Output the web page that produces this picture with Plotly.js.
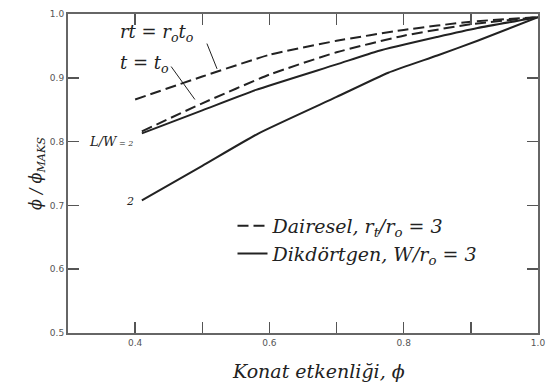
<!DOCTYPE html>
<html>
<head>
<meta charset="utf-8">
<script src="https://cdn.plot.ly/plotly-3.0.1.min.js"></script>
<style>
  html, body { margin: 0; padding: 0; background: #fff; }
  #chart { width: 546px; height: 386px; }
</style>
</head>
<body>
<div id="chart"></div>
<script>
// Circular fin, r_t = r_o t_o (upper dashed curve)
const phiCircA = [0.40, 0.50, 0.60, 0.70, 0.80, 0.90, 1.00];
const ratioCircA = [0.866, 0.902, 0.936, 0.958, 0.975, 0.988, 0.995];

// Circular fin, t = t_o (lower dashed curve)
const phiCircB = [0.41, 0.50, 0.60, 0.70, 0.80, 0.90, 1.00];
const ratioCircB = [0.816, 0.860, 0.905, 0.940, 0.966, 0.984, 0.995];

// Rectangular fin, L/W = 2 (upper solid curve)
const phiRectA = [0.41, 0.50, 0.58, 0.70, 0.762, 0.85, 0.91, 1.00];
const ratioRectA = [0.813, 0.849, 0.881, 0.921, 0.942, 0.964, 0.978, 0.995];

// Rectangular fin, second solid curve (labelled 2)
const phiRectB = [0.41, 0.50, 0.584, 0.70, 0.777, 0.85, 0.91, 1.00];
const ratioRectB = [0.708, 0.762, 0.813, 0.870, 0.908, 0.935, 0.958, 0.995];

const xTickVals = [0.4, 0.5, 0.6, 0.7, 0.8, 0.9, 1.0];
const xTickText = ['0.4', '', '0.6', '', '0.8', '', '1.0'];
const yTickVals = [0.5, 0.6, 0.7, 0.8, 0.9, 1.0];
const yTickText = ['0.5', '0.6', '0.7', '0.8', '0.9', '1.0'];

const legendCirc = 'Dairesel, r<sub>t</sub>/r<sub>o</sub> = 3';
const legendRect = 'Dikdörtgen, W/r<sub>o</sub> = 3';
const xTitle = 'Konat etkenliği, ϕ';

const serif = 'DejaVu Serif';
const ink = '#222';
const dashed = '11px,5px';

const traces = [
  { x: phiCircA, y: ratioCircA, name: legendCirc, legendgroup: 'c', showlegend: true,
    mode: 'lines', line: { color: ink, width: 2, dash: dashed, shape: 'spline', smoothing: 0.5 } },
  { x: phiCircB, y: ratioCircB, name: legendCirc, legendgroup: 'c', showlegend: false,
    mode: 'lines', line: { color: ink, width: 2, dash: dashed, shape: 'spline', smoothing: 0.5 } },
  { x: phiRectA, y: ratioRectA, name: legendRect, legendgroup: 'r', showlegend: true,
    mode: 'lines', line: { color: ink, width: 2, shape: 'spline', smoothing: 0.5 } },
  { x: phiRectB, y: ratioRectB, name: legendRect, legendgroup: 'r', showlegend: false,
    mode: 'lines', line: { color: ink, width: 2, shape: 'spline', smoothing: 0.5 } }
];

const italic = (size) => ({ family: serif, size: size, color: ink, style: 'italic' });

const layout = {
  width: 546,
  height: 386,
  margin: { l: 68, r: 8, t: 14, b: 53 },
  paper_bgcolor: '#fff',
  plot_bgcolor: '#fff',
  showlegend: true,
  legend: {
    x: 0.35, y: 0.395, xanchor: 'left', yanchor: 'top',
    bgcolor: 'rgba(0,0,0,0)', borderwidth: 0,
    font: italic(19), tracegroupgap: 0, traceorder: 'grouped'
  },
  xaxis: {
    range: [0.3, 1.0],
    tickvals: xTickVals, ticktext: xTickText,
    ticks: 'inside', ticklen: 11, tickwidth: 1.5, tickcolor: '#555',
    ticklabeloverflow: 'allow',
    showline: true, linecolor: '#666', linewidth: 2, mirror: 'ticks',
    showgrid: false, zeroline: false,
    tickfont: { family: 'DejaVu Sans', size: 9, color: '#555' }
  },
  yaxis: {
    range: [0.5, 1.0],
    tickvals: yTickVals, ticktext: yTickText,
    ticks: 'inside', ticklen: 11, tickwidth: 1.5, tickcolor: '#555',
    showline: true, linecolor: '#666', linewidth: 2, mirror: 'ticks',
    showgrid: false, zeroline: false,
    tickfont: { family: 'DejaVu Sans', size: 9, color: '#555' },
    title: { text: 'ϕ / ϕ<sub>MAKS</sub>', font: italic(16), standoff: 4 }
  },
  annotations: [
    // x-axis caption, set slightly right of the plot centre
    { x: 0.532, y: -0.118, xref: 'paper', yref: 'paper', xanchor: 'center', yanchor: 'middle',
      text: xTitle, showarrow: false, font: italic(19) },
    { x: 0.375, y: 0.970, xref: 'x', yref: 'y', xanchor: 'left', yanchor: 'middle',
      text: 'rt = r<sub>o</sub>t<sub>o</sub>', showarrow: false, font: italic(18) },
    { x: 0.375, y: 0.922, xref: 'x', yref: 'y', xanchor: 'left', yanchor: 'middle',
      text: 't = t<sub>o</sub>', showarrow: false, font: italic(18) },
    { x: 0.522, y: 0.914, ax: 0.506, ay: 0.956, xref: 'x', yref: 'y', axref: 'x', ayref: 'y',
      text: '', showarrow: true, arrowhead: 0, arrowwidth: 1, arrowcolor: ink },
    { x: 0.489, y: 0.866, ax: 0.452, ay: 0.920, xref: 'x', yref: 'y', axref: 'x', ayref: 'y',
      text: '', showarrow: true, arrowhead: 0, arrowwidth: 1, arrowcolor: ink },
    { x: 0.400, y: 0.800, xref: 'x', yref: 'y', xanchor: 'right', yanchor: 'middle',
      text: 'L/W<span style="font-size:8px"> = 2</span>', showarrow: false, font: italic(13) },
    { x: 0.401, y: 0.706, xref: 'x', yref: 'y', xanchor: 'right', yanchor: 'middle',
      text: '2', showarrow: false, font: italic(11) }
  ]
};

Plotly.newPlot('chart', traces, layout, { displayModeBar: false, staticPlot: true });
</script>
</body>
</html>
